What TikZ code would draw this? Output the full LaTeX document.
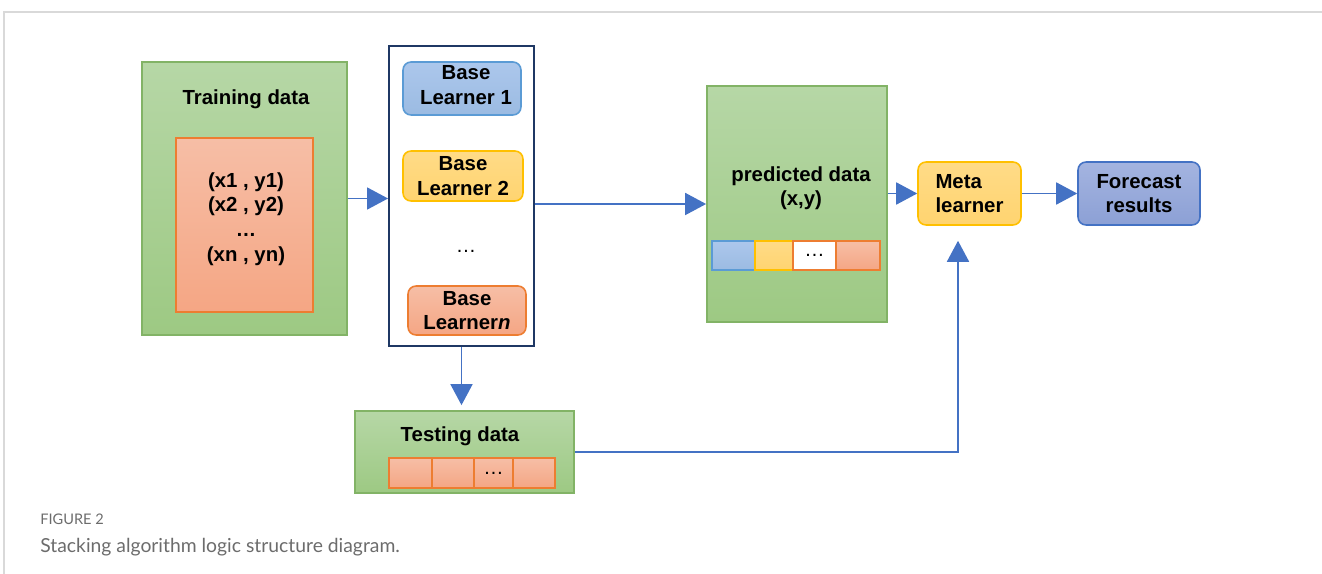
\documentclass[tikz,border=0pt]{standalone}
\usepackage{fontspec}
\setmainfont{Liberation Sans}
\newfontfamily\capfont{Lato}
\usetikzlibrary{arrows.meta}

\definecolor{grtop}{RGB}{182,215,166}
\definecolor{grbot}{RGB}{157,201,131}
\definecolor{grline}{RGB}{130,179,102}
\definecolor{ortop}{RGB}{246,190,166}
\definecolor{orbot}{RGB}{245,166,132}
\definecolor{orline}{RGB}{237,125,49}
\definecolor{bltop}{RGB}{172,199,236}
\definecolor{blbot}{RGB}{155,187,226}
\definecolor{blline}{RGB}{91,155,213}
\definecolor{yetop}{RGB}{255,219,135}
\definecolor{yebot}{RGB}{255,212,112}
\definecolor{yeline}{RGB}{255,192,0}
\definecolor{fctop}{RGB}{164,180,224}
\definecolor{fcbot}{RGB}{140,160,213}
\definecolor{arrblue}{RGB}{68,114,196}
\definecolor{navy}{RGB}{31,56,100}
\definecolor{capgray}{RGB}{108,108,108}

\tikzset{
  greenbox/.style={draw=grline, line width=1pt, top color=grtop, bottom color=grbot, inner sep=0pt},
  orangebox/.style={draw=orline, line width=1pt, top color=ortop, bottom color=orbot, inner sep=0pt},
  learner/.style={rounded corners=0.16cm, line width=0.9pt, inner sep=0pt, align=center,
    font=\fontsize{11.6}{13.8}\selectfont\bfseries},
  cell/.style={line width=0.9pt, inner sep=0pt, minimum height=0.58cm},
  label/.style={font=\fontsize{11.6}{13.8}\selectfont\bfseries, align=center, inner sep=0pt},
  arr/.style={draw=arrblue, line width=1pt, -{Triangle[length=0.42cm,width=0.44cm]}}
}

\begin{document}
\begin{tikzpicture}[x=0.02cm, y=-0.02cm]
  \useasboundingbox (0,0) rectangle (1322,574);
  % frame of the figure
  \draw[gray!30, line width=0.8pt] (1322,12) -- (4,12) -- (4,574);

  % training data
  \node[greenbox, minimum width=4.1cm, minimum height=5.46cm] (train) at (244.5,198.5) {};
  \node[label] (traintxt) at (246,99) {Training data};
  \node[orangebox, minimum width=2.74cm, minimum height=3.48cm] (pairs) at (244.5,225) {};
  \node[label, font=\fontsize{11.6}{14}\selectfont\bfseries] (pairtxt) at (246,219)
    {(x1 , y1)\\(x2 , y2)\\\dots\\(xn , yn)};

  % base learners
  \node[draw=navy, fill=white, line width=1.1pt, minimum width=2.9cm, minimum height=6cm] (box) at (461.5,196) {};
  \node[learner, draw=blline, top color=bltop, bottom color=blbot, minimum width=2.36cm, minimum height=1.06cm]
    (bl1) at (462,88.5) {};
  \node[label] (bl1txt) at (466,85) {Base\\Learner 1};
  \node[learner, draw=yeline, top color=yetop, bottom color=yebot, minimum width=2.4cm, minimum height=1cm]
    (bl2) at (463,176) {Base\\Learner 2};
  \node[label, font=\fontsize{11.6}{13.8}\selectfont] (bldots) at (466,251) {\dots};
  \node[learner, draw=orline, top color=ortop, bottom color=orbot, minimum width=2.36cm, minimum height=0.98cm]
    (bln) at (467,310.5) {Base\\Learner\textit{n}};

  % predicted data
  \node[greenbox, minimum width=3.6cm, minimum height=4.72cm] (pred) at (797,204) {};
  \node[label] (predtxt) at (801,188) {predicted data\\(x,y)};
  \node[cell, draw=blline, top color=bltop, bottom color=blbot, minimum width=0.86cm] (p1) at (733.5,255.5) {};
  \node[cell, draw=yeline, top color=yetop, bottom color=yebot, minimum width=0.76cm] (p2) at (774,255.5) {};
  \node[cell, draw=orline, fill=white, minimum width=0.86cm, font=\fontsize{11.6}{13.8}\selectfont] (p3) at (814.5,255.5) {\dots};
  \node[cell, draw=orline, top color=ortop, bottom color=orbot, minimum width=0.88cm] (p4) at (858,255.5) {};

  % meta learner and result
  \node[learner, align=left, draw=yeline, top color=yetop, bottom color=yebot, minimum width=2.06cm, minimum height=1.26cm]
    (meta) at (969.5,193.5) {Meta\\learner};
  \node[learner, draw=arrblue, top color=fctop, bottom color=fcbot, minimum width=2.44cm, minimum height=1.26cm]
    (fc) at (1139,193.5) {Forecast\\results};

  % testing data
  \node[greenbox, minimum width=4.38cm, minimum height=1.64cm] (test) at (464.5,452) {};
  \node[label] (testtxt) at (460,436) {Testing data};
  \node[cell, draw=orline, top color=ortop, bottom color=orbot, minimum width=0.86cm, minimum height=0.6cm] (t1) at (410.5,473) {};
  \node[cell, draw=orline, top color=ortop, bottom color=orbot, minimum width=0.84cm, minimum height=0.6cm] (t2) at (453,473) {};
  \node[cell, draw=orline, top color=ortop, bottom color=orbot, minimum width=0.78cm, minimum height=0.6cm,
    font=\fontsize{11.6}{13.8}\selectfont] (t3) at (493.5,473) {\dots};
  \node[cell, draw=orline, top color=ortop, bottom color=orbot, minimum width=0.84cm, minimum height=0.6cm] (t4) at (534,473) {};

  % connectors
  \draw[arr] (train.east) -- (train.east -| box.west);
  \draw[arr] (box.east |- pred.west) -- (pred.west);
  \draw[arr, shorten >=0.1cm] (box.south) -- (box.south |- test.north);
  \draw[arr] (pred.east |- meta.west) -- (meta.west);
  \draw[arr] (meta.east) -- (fc.west);
  \coordinate (metain) at ([xshift=-0.23cm, yshift=-0.3cm]meta.south);
  \draw[arr] (test.east) -| (metain);

  % caption
  \node[anchor=west, inner sep=0pt, text=capgray, font=\capfont\fontsize{8.3}{10}\selectfont] (figno) at (40,519) {FIGURE 2};
  \node[anchor=west, inner sep=0pt, text=capgray, font=\capfont\fontsize{11}{13}\selectfont] (captxt) at (40,547)
    {Stacking algorithm logic structure diagram.};
\end{tikzpicture}
\end{document}
